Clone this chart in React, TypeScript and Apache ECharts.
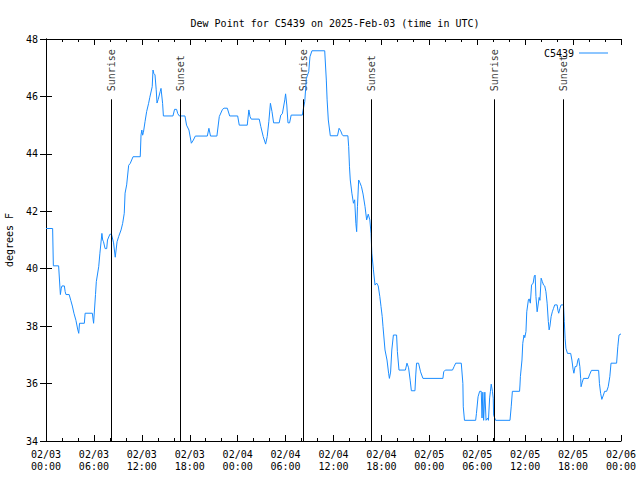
import React, { useEffect, useRef } from "react";
import * as echarts from "echarts";

// hours since 2025-02-03 00:00 UTC
const hours = [
  0, 0.83, 0.92, 1.58, 1.8, 1.9, 2.0, 2.3, 2.4, 2.5, 2.9, 3.1, 3.3, 3.5, 3.75, 3.96, 4.1, 4.2, 4.8, 4.9,
  5.8, 5.96, 6.2, 6.3, 6.6, 6.75, 7.0, 7.1, 7.2, 7.4, 7.6, 7.7, 8.0, 8.2, 8.46, 8.67, 8.9, 9.1, 9.4, 9.6,
  9.8, 9.9, 10.1, 10.35, 10.55, 10.9, 11.8, 11.9, 12.0, 12.1, 12.2, 12.4, 12.6, 12.85, 13.0, 13.3, 13.4, 13.5, 13.65, 13.8,
  13.9, 14.05, 14.3, 14.4, 14.6, 14.7, 15.9, 16.1, 16.35, 16.5, 16.7, 17.4, 17.6, 17.9, 18.2, 18.45, 18.7, 20.2, 20.4, 20.6,
  21.4, 21.7, 22.1, 22.3, 22.7, 23.0, 24.0, 24.2, 25.2, 25.4, 25.55, 25.7, 26.7, 26.9, 27.2, 27.5, 27.7, 27.9, 28.1, 28.3,
  28.5, 29.2, 29.4, 29.6, 29.9, 30.0, 30.15, 30.3, 30.5, 30.7, 32.1, 32.2, 32.4, 32.6, 32.9, 33.05, 33.3, 34.9, 35.1, 35.2,
  35.35, 35.6, 36.5, 36.7, 36.9, 37.1, 37.2, 37.8, 37.9, 38.0, 38.1, 38.3, 38.5, 38.65, 38.8, 38.9, 39.0, 39.15, 39.3, 39.5,
  39.7, 39.95, 40.15, 40.35, 40.55, 40.7, 40.8, 41.0, 41.2, 41.4, 41.6, 41.8, 41.95, 42.1, 42.2, 42.45, 42.7, 42.9, 43.0, 43.15,
  43.3, 43.5, 43.9, 44.0, 44.2, 45.0, 45.2, 45.4, 45.6, 45.75, 46.2, 46.3, 46.4, 46.65, 46.9, 47.2, 49.7, 49.8, 50.0, 50.9,
  51.1, 51.3, 52.0, 52.2, 52.25, 52.4, 53.8, 53.9, 54.1, 54.3, 54.5, 54.6, 54.7, 54.8, 54.95, 55.1, 55.3, 55.4, 55.55, 55.65,
  55.75, 55.9, 56.0, 56.05, 56.3, 58.1, 58.25, 58.4, 59.3, 59.35, 59.4, 59.6, 59.7, 59.85, 59.95, 60.1, 60.2, 60.4, 60.5, 60.65,
  60.8, 61.0, 61.15, 61.25, 61.35, 61.5, 61.6, 61.75, 61.85, 62.0, 62.15, 62.3, 62.45, 62.6, 62.75, 62.9, 63.0, 63.1, 63.25, 63.4,
  63.55, 63.7, 64.0, 64.1, 64.2, 64.35, 64.5, 64.8, 64.9, 65.0, 65.1, 65.3, 65.7, 65.85, 66.0, 66.1, 66.25, 66.45, 66.6, 66.7,
  66.85, 66.95, 67.0, 67.15, 67.3, 67.9, 68.05, 68.3, 69.2, 69.3, 69.45, 69.6, 69.8, 69.95, 70.2, 70.4, 70.6, 70.75, 71.45, 71.6,
  71.75, 72.0,
];

const dewPoint = [
  41.4, 41.4, 40.1, 40.1, 39.1, 39.3, 39.4, 39.4, 39.2, 39.1, 39.1, 38.9, 38.7, 38.45, 38.2, 37.9, 37.75, 38.1, 38.1, 38.45,
  38.45, 38.1, 39.1, 39.55, 40.07, 40.54, 41.23, 41.0, 40.94, 40.7, 40.7, 41.0, 41.2, 41.2, 40.9, 40.4, 40.94, 41.12, 41.35, 41.58,
  41.93, 42.63, 42.92, 43.6, 43.67, 43.9, 43.9, 44.66, 44.83, 44.65, 44.75, 45.12, 45.47, 45.76, 45.97, 46.34, 46.92, 46.8, 46.75, 46.23,
  45.77, 45.9, 46.17, 46.28, 45.76, 45.32, 45.32, 45.55, 45.55, 45.4, 45.32, 45.32, 45.0, 44.83, 44.37, 44.48, 44.62, 44.62, 44.89, 44.62,
  44.62, 45.3, 45.55, 45.59, 45.59, 45.32, 45.32, 45.0, 45.0, 45.53, 45.3, 45.21, 45.21, 44.95, 44.6, 44.34, 44.6, 45.12, 45.76, 45.47,
  45.08, 45.08, 45.35, 45.4, 45.88, 46.09, 45.7, 45.08, 45.08, 45.35, 45.35, 45.53, 45.82, 46.63, 46.86, 47.38, 47.59, 47.59, 46.57, 45.88,
  45.18, 44.63, 44.63, 44.89, 44.8, 44.66, 44.63, 44.63, 44.25, 43.55, 43.09, 42.63, 42.28, 42.4, 41.58, 41.29, 42.16, 43.09, 43.0, 42.86,
  42.6, 42.16, 41.7, 41.9, 41.7, 41.23, 40.54, 39.96, 39.43, 39.5, 39.4, 39.03, 38.68, 38.33, 37.98, 37.17, 36.82, 36.36, 36.18, 36.4,
  37.17, 37.69, 37.69, 37.11, 36.47, 36.47, 36.71, 36.55, 36.12, 35.75, 35.75, 36.3, 36.71, 36.71, 36.41, 36.18, 36.18, 36.41, 36.47, 36.47,
  36.59, 36.71, 36.71, 36.0, 35.19, 34.72, 34.72, 34.96, 35.54, 35.73, 35.73, 34.8, 35.7, 34.72, 35.7, 34.72, 34.8, 34.72, 35.5, 35.73,
  35.98, 35.73, 35.49, 34.9, 34.72, 34.72, 35.19, 35.73, 35.73, 35.95, 36.24, 36.82, 37.4, 37.69, 37.6, 37.81, 38.5, 38.91, 38.95, 38.8,
  39.43, 39.5, 39.75, 39.78, 39.03, 38.5, 38.7, 39.0, 38.9, 39.67, 39.55, 39.43, 39.4, 39.2, 38.8, 38.16, 37.87, 38.0, 38.33, 38.5,
  38.62, 38.74, 38.74, 38.55, 38.45, 38.62, 38.74, 38.74, 38.16, 37.58, 37.23, 37.05, 37.05, 36.82, 36.5, 36.36, 36.59, 36.6, 36.82, 36.88,
  36.59, 36.18, 35.89, 36.05, 36.18, 36.18, 36.3, 36.46, 36.46, 36.0, 35.66, 35.45, 35.6, 35.73, 35.73, 35.89, 36.24, 36.71, 36.71, 37.28,
  37.69, 37.73,
];

const sunriseHours = [8.18, 32.2, 56.1];
const sunsetHours = [16.8, 40.72, 64.8];

const xTickLabels = [
  "02/03\n00:00", "02/03\n06:00", "02/03\n12:00", "02/03\n18:00",
  "02/04\n00:00", "02/04\n06:00", "02/04\n12:00", "02/04\n18:00",
  "02/05\n00:00", "02/05\n06:00", "02/05\n12:00", "02/05\n18:00",
  "02/06\n00:00",
];

const FONT = "DejaVu Sans Mono";
const LINE_COLOR = "#1a8cff";
const SUN_LINE_TOP = 45.9;

export default function App() {
  const ref = useRef<HTMLDivElement>(null);

  useEffect(() => {
    if (!ref.current) return;
    const chart = echarts.init(ref.current, undefined, { renderer: "svg" });

    const data = hours.map((h, i) => [h, dewPoint[i]]);
    const sunEvents = [
      ...sunriseHours.map((h) => ({ h, name: "Sunrise" })),
      ...sunsetHours.map((h) => ({ h, name: "Sunset" })),
    ];

    const xAxisBase = {
      type: "value" as const,
      min: 0,
      max: 72,
      interval: 6,
      axisLine: { show: true, lineStyle: { color: "#000", width: 1 } },
      axisTick: { show: true, inside: true, length: 6, lineStyle: { color: "#000" } },
      minorTick: { show: true, splitNumber: 3, length: 3, lineStyle: { color: "#000" } },
      splitLine: { show: false },
      minorSplitLine: { show: false },
    };
    const yAxisBase = {
      type: "value" as const,
      min: 34,
      max: 48,
      interval: 2,
      axisLine: { show: true, lineStyle: { color: "#000", width: 1 } },
      axisTick: { show: true, inside: true, length: 6, lineStyle: { color: "#000" } },
      splitLine: { show: false },
    };

    chart.setOption({
      animation: false,
      textStyle: { fontFamily: FONT, fontSize: 10, color: "#000" },
      title: {
        text: "Dew Point for C5439 on 2025-Feb-03 (time in UTC)",
        left: 330,
        top: 13,
        textAlign: "center",
        textStyle: { fontFamily: FONT, fontSize: 10, fontWeight: "normal", color: "#000" },
      },
      legend: {
        right: 27,
        top: 43,
        align: "right",
        itemWidth: 29,
        itemHeight: 1,
        textStyle: { fontFamily: FONT, fontSize: 10, color: "#000" },
        data: [{ name: "C5439", icon: "rect" }],
      },
      grid: { left: 46, right: 19, top: 39, bottom: 39, show: false, containLabel: false, outerBoundsMode: "none" },
      xAxis: [
        {
          ...xAxisBase,
          position: "bottom",
          axisLabel: {
            margin: 7,
            lineHeight: 12,
            color: "#000",
            fontFamily: FONT,
            fontSize: 10,
            formatter: (v: number) => xTickLabels[Math.round(v / 6)] ?? "",
          },
        },
        { ...xAxisBase, position: "top", axisLabel: { show: false } },
      ],
      yAxis: [
        {
          ...yAxisBase,
          position: "left",
          name: "degrees F",
          nameLocation: "middle",
          nameGap: 32,
          nameRotate: 90,
          nameTextStyle: { fontFamily: FONT, fontSize: 10, color: "#000" },
          axisLabel: { margin: 8, color: "#000", fontFamily: FONT, fontSize: 10 },
        },
        { ...yAxisBase, position: "right", axisLabel: { show: false } },
      ],
      series: [
        {
          type: "line",
          name: "C5439",
          xAxisIndex: 0,
          yAxisIndex: 0,
          data,
          symbol: "none",
          showSymbol: false,
          lineStyle: { color: LINE_COLOR, width: 1 },
          itemStyle: { color: LINE_COLOR },
          z: 3,
          markLine: {
            silent: true,
            symbol: ["none", "none"],
            lineStyle: { color: "#000", width: 1, type: "solid" },
            label: { show: false },
            data: sunEvents.map((e) => [{ coord: [e.h, 34] }, { coord: [e.h, SUN_LINE_TOP] }]),
          },
        },
        {
          type: "scatter",
          name: "sun",
          xAxisIndex: 0,
          yAxisIndex: 0,
          symbolSize: 0,
          silent: true,
          data: sunEvents.map((e) => ({ name: e.name, value: [e.h, SUN_LINE_TOP] })),
          label: {
            show: true,
            formatter: (p: any) => p.name,
            position: "top",
            distance: 7,
            rotate: 90,
            align: "left",
            verticalAlign: "middle",
            offset: [1, 0],
            color: "#000",
            fontFamily: FONT,
            fontSize: 10,
          },
        },
      ],
    });

    return () => chart.dispose();
  }, []);

  return <div ref={ref} style={{ width: 640, height: 480, position: "absolute", left: 0, top: 0 }} />;
}
